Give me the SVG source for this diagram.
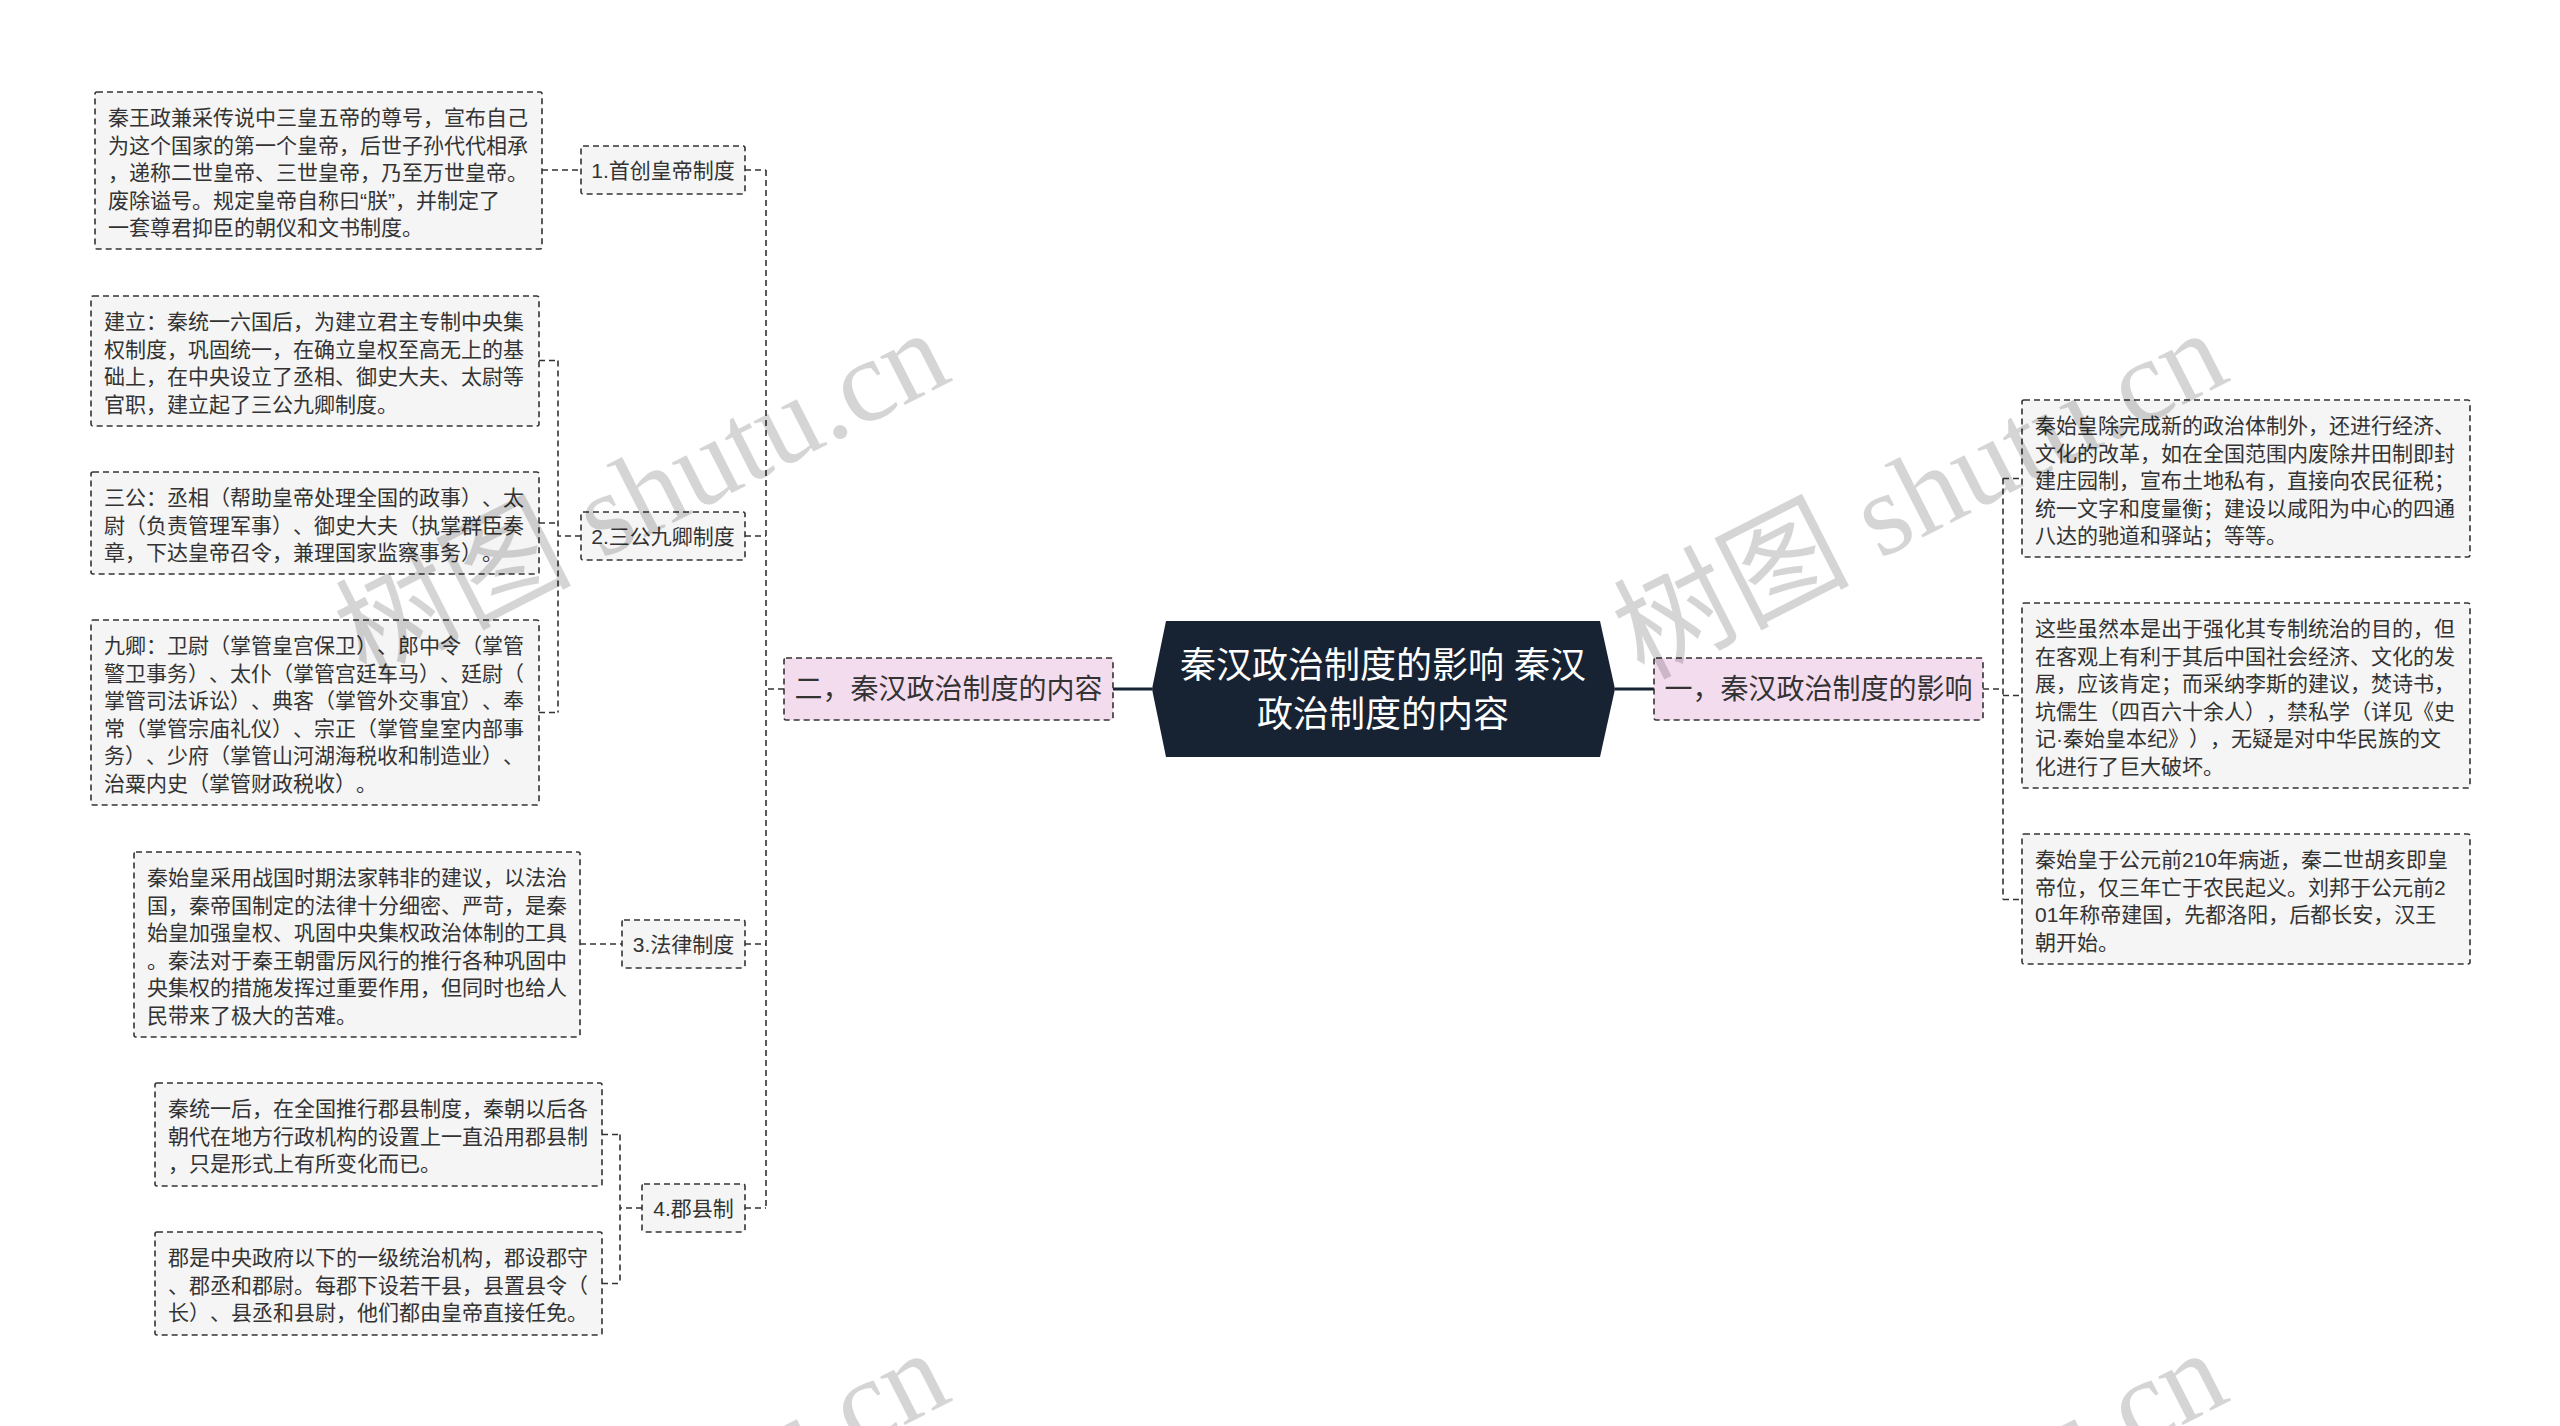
<svg xmlns="http://www.w3.org/2000/svg" width="2560" height="1426" viewBox="0 0 2560 1426">
<style>
.box{fill:#f5f5f5;stroke:#333;stroke-width:1.6;stroke-dasharray:6 4}
.pink{fill:#f4dcef;stroke:#333;stroke-width:1.6;stroke-dasharray:6 4}
.conn{fill:none;stroke:#333;stroke-width:1.6;stroke-dasharray:6 4}
.solid{fill:none;stroke:#172333;stroke-width:3}
text{text-spacing-trim:space-all}
.t{font-family:"Liberation Sans","Noto Sans CJK SC",sans-serif;font-size:21px;fill:#333}
.tb{font-family:"Liberation Sans","Noto Sans CJK SC",sans-serif;font-size:28px;fill:#333;text-anchor:middle}
.tc{font-family:"Liberation Sans","Noto Sans CJK SC",sans-serif;font-size:36px;fill:#fff;text-anchor:middle}
.wm{font-family:"Liberation Serif","Noto Sans CJK SC",serif;font-size:118px;fill:#000;opacity:0.16}
</style>
<rect width="2560" height="1426" fill="#fff"/>
<g id="connectors">
<path class="solid" d="M1113,689 H1152 M1615,689 H1654"/>
<path class="conn" d="M784,689 H766 M766,170 V1208 M745,170 H766 M542,170 H581 M745,536 H766 M581,536 H558 M558,360.5 V712.5 M539,360.5 H558 M539,523 H558 M539,712.5 H558 M745,944 H766 M580,944 H622 M745,1208 H766 M642,1208 H620 M620,1134.5 V1283.5 M602,1134.5 H620 M602,1283.5 H620"/>
<path class="conn" d="M1983,689 H2003 M2003,478.5 V899.5 M2003,478.5 H2022 M2003,695.5 H2022 M2003,899.5 H2022"/>
</g>
<g id="center">
<polygon points="1166,621 1600,621 1615,689 1600,757 1166,757 1152,689" fill="#172333"/>
<text class="tc"><tspan x="1383" y="678">秦汉政治制度的影响 秦汉</tspan><tspan x="1383" y="727">政治制度的内容</tspan></text>
</g>
<g id="branch-left">
<rect class="pink" x="784" y="658" width="329" height="62" rx="2"/>
<text class="tb" x="948.5" y="699">二，秦汉政治制度的内容</text>
</g>
<g id="branch-right">
<rect class="pink" x="1654" y="658" width="329" height="62" rx="2"/>
<text class="tb" x="1818.5" y="699">一，秦汉政治制度的影响</text>
</g>
<g id="node1">
<rect class="box" x="581" y="146" width="164" height="48" rx="2"/>
<text class="t" x="663" y="177.5" text-anchor="middle">1.首创皇帝制度</text>
</g>
<g id="node2">
<rect class="box" x="581" y="512" width="164" height="48" rx="2"/>
<text class="t" x="663" y="543.5" text-anchor="middle">2.三公九卿制度</text>
</g>
<g id="node3">
<rect class="box" x="622" y="920" width="123" height="48" rx="2"/>
<text class="t" x="683.5" y="951.5" text-anchor="middle">3.法律制度</text>
</g>
<g id="node4">
<rect class="box" x="642" y="1184" width="103" height="48" rx="2"/>
<text class="t" x="693.5" y="1215.5" text-anchor="middle">4.郡县制</text>
</g>
<g id="leaf1">
<rect class="box" x="95" y="92" width="447" height="157" rx="2"/>
<text class="t"><tspan x="108" y="125">秦王政兼采传说中三皇五帝的尊号，宣布自己</tspan><tspan x="108" y="152.5">为这个国家的第一个皇帝，后世子孙代代相承</tspan><tspan x="108" y="180">，递称二世皇帝、三世皇帝，乃至万世皇帝。</tspan><tspan x="108" y="207.5">废除谥号。规定皇帝自称曰“朕”，并制定了</tspan><tspan x="108" y="235">一套尊君抑臣的朝仪和文书制度。</tspan></text>
</g>
<g id="leaf2a">
<rect class="box" x="91" y="296" width="448" height="130" rx="2"/>
<text class="t"><tspan x="104" y="329">建立：秦统一六国后，为建立君主专制中央集</tspan><tspan x="104" y="356.5">权制度，巩固统一，在确立皇权至高无上的基</tspan><tspan x="104" y="384">础上，在中央设立了丞相、御史大夫、太尉等</tspan><tspan x="104" y="411.5">官职，建立起了三公九卿制度。</tspan></text>
</g>
<g id="leaf2b">
<rect class="box" x="91" y="472" width="448" height="102" rx="2"/>
<text class="t"><tspan x="104" y="505">三公：丞相（帮助皇帝处理全国的政事）、太</tspan><tspan x="104" y="532.5">尉（负责管理军事）、御史大夫（执掌群臣奏</tspan><tspan x="104" y="560">章，下达皇帝召令，兼理国家监察事务）。</tspan></text>
</g>
<g id="leaf2c">
<rect class="box" x="91" y="620" width="448" height="185" rx="2"/>
<text class="t"><tspan x="104" y="653">九卿：卫尉（掌管皇宫保卫）、郎中令（掌管</tspan><tspan x="104" y="680.5">警卫事务）、太仆（掌管宫廷车马）、廷尉（</tspan><tspan x="104" y="708">掌管司法诉讼）、典客（掌管外交事宜）、奉</tspan><tspan x="104" y="735.5">常（掌管宗庙礼仪）、宗正（掌管皇室内部事</tspan><tspan x="104" y="763">务）、少府（掌管山河湖海税收和制造业）、</tspan><tspan x="104" y="790.5">治粟内史（掌管财政税收）。</tspan></text>
</g>
<g id="leaf3">
<rect class="box" x="134" y="852" width="446" height="185" rx="2"/>
<text class="t"><tspan x="147" y="885">秦始皇采用战国时期法家韩非的建议，以法治</tspan><tspan x="147" y="912.5">国，秦帝国制定的法律十分细密、严苛，是秦</tspan><tspan x="147" y="940">始皇加强皇权、巩固中央集权政治体制的工具</tspan><tspan x="147" y="967.5">。秦法对于秦王朝雷厉风行的推行各种巩固中</tspan><tspan x="147" y="995">央集权的措施发挥过重要作用，但同时也给人</tspan><tspan x="147" y="1022.5">民带来了极大的苦难。</tspan></text>
</g>
<g id="leaf4a">
<rect class="box" x="155" y="1083" width="447" height="103" rx="2"/>
<text class="t"><tspan x="168" y="1116">秦统一后，在全国推行郡县制度，秦朝以后各</tspan><tspan x="168" y="1143.5">朝代在地方行政机构的设置上一直沿用郡县制</tspan><tspan x="168" y="1171">，只是形式上有所变化而已。</tspan></text>
</g>
<g id="leaf4b">
<rect class="box" x="155" y="1232" width="447" height="103" rx="2"/>
<text class="t"><tspan x="168" y="1265">郡是中央政府以下的一级统治机构，郡设郡守</tspan><tspan x="168" y="1292.5">、郡丞和郡尉。每郡下设若干县，县置县令（</tspan><tspan x="168" y="1320">长）、县丞和县尉，他们都由皇帝直接任免。</tspan></text>
</g>
<g id="leafR1">
<rect class="box" x="2022" y="400" width="448" height="157" rx="2"/>
<text class="t"><tspan x="2035" y="433">秦始皇除完成新的政治体制外，还进行经济、</tspan><tspan x="2035" y="460.5">文化的改革，如在全国范围内废除井田制即封</tspan><tspan x="2035" y="488">建庄园制，宣布土地私有，直接向农民征税；</tspan><tspan x="2035" y="515.5">统一文字和度量衡；建设以咸阳为中心的四通</tspan><tspan x="2035" y="543">八达的驰道和驿站；等等。</tspan></text>
</g>
<g id="leafR2">
<rect class="box" x="2022" y="603" width="448" height="185" rx="2"/>
<text class="t"><tspan x="2035" y="636">这些虽然本是出于强化其专制统治的目的，但</tspan><tspan x="2035" y="663.5">在客观上有利于其后中国社会经济、文化的发</tspan><tspan x="2035" y="691">展，应该肯定；而采纳李斯的建议，焚诗书，</tspan><tspan x="2035" y="718.5">坑儒生（四百六十余人），禁私学（详见《史</tspan><tspan x="2035" y="746">记·秦始皇本纪》），无疑是对中华民族的文</tspan><tspan x="2035" y="773.5">化进行了巨大破坏。</tspan></text>
</g>
<g id="leafR3">
<rect class="box" x="2022" y="834" width="448" height="130" rx="2"/>
<text class="t"><tspan x="2035" y="867">秦始皇于公元前210年病逝，秦二世胡亥即皇</tspan><tspan x="2035" y="894.5">帝位，仅三年亡于农民起义。刘邦于公元前2</tspan><tspan x="2035" y="922">01年称帝建国，先都洛阳，后都长安，汉王</tspan><tspan x="2035" y="949.5">朝开始。</tspan></text>
</g>
<g id="watermark">
<text class="wm" transform="translate(365,680) rotate(-27)">树图 shutu.cn</text>
<text class="wm" transform="translate(1643,680) rotate(-27)">树图 shutu.cn</text>
<text class="wm" transform="translate(365,1700) rotate(-27)">树图 shutu.cn</text>
<text class="wm" transform="translate(1643,1700) rotate(-27)">树图 shutu.cn</text>
</g>
</svg>
